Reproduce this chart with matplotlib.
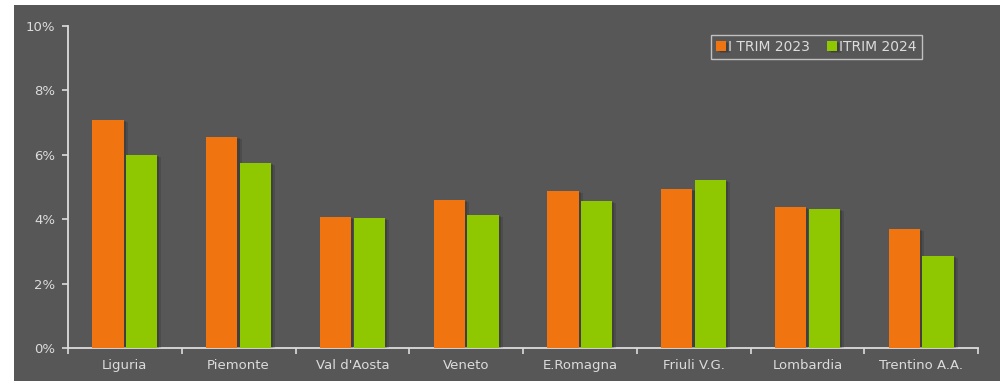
import matplotlib
matplotlib.use("Agg")
import matplotlib.pyplot as plt
import matplotlib.patheffects as pe
from matplotlib.patches import Rectangle
from matplotlib.ticker import FuncFormatter, MultipleLocator
import numpy as np

# Data
regions = ["Liguria", "Piemonte", "Val d'Aosta", "Veneto", "E.Romagna",
           "Friuli V.G.", "Lombardia", "Trentino A.A."]
trim_2023 = [7.08, 6.56, 4.08, 4.60, 4.87, 4.94, 4.39, 3.70]
trim_2024 = [5.99, 5.76, 4.05, 4.12, 4.56, 5.22, 4.32, 2.86]
series_labels = ["I TRIM 2023", "ITRIM 2024"]

bg = "#575757"
fg = "#dcdcdc"
orange = "#f07410"
green = "#8fc800"

plt.rcParams["font.family"] = ["DejaVu Sans"]

fig = plt.figure(figsize=(10, 3.81), dpi=100, facecolor="white")
# grey panel (white strip on top and left like the source)
fig.patches.append(Rectangle((0.014, 0), 0.986, 1 - 5 / 381, transform=fig.transFigure,
                             facecolor=bg, edgecolor="none", zorder=-10))

ax = fig.add_axes([0.068, 0.0866, 0.910, 0.8452])
ax.set_facecolor("none")

x = np.arange(len(regions))
w = 0.275
# soft drop shadow behind bars
shadow = [pe.SimplePatchShadow(offset=(3, -1.5), shadow_rgbFace="black", alpha=0.12),
          pe.SimplePatchShadow(offset=(1.5, -0.8), shadow_rgbFace="black", alpha=0.15),
          pe.Normal()]
ax.bar(x - w / 2 - 0.01, trim_2023, w, color=orange, label=series_labels[0],
       path_effects=shadow, zorder=3)
ax.bar(x + w / 2 + 0.01, trim_2024, w, color=green, label=series_labels[1],
       path_effects=shadow, zorder=3)

ax.set_xlim(-0.5, len(regions) - 0.5)
ax.set_ylim(0, 10)
ax.yaxis.set_major_locator(MultipleLocator(2))
ax.yaxis.set_major_formatter(FuncFormatter(lambda v, p: f"{v:.0f}%"))

ax.set_xticks(x)
ax.set_xticklabels(regions)
ax.set_xticks(np.arange(-0.5, len(regions)), minor=True)
ax.tick_params(axis="x", which="major", length=0, pad=8, labelsize=9.5, labelcolor=fg)
ax.tick_params(axis="x", which="minor", length=4, width=1.2, color=fg, direction="out")
ax.tick_params(axis="y", length=4, width=1.2, color=fg, labelsize=9.5, labelcolor=fg, pad=5)

for s in ["top", "right"]:
    ax.spines[s].set_visible(False)
for s in ["left", "bottom"]:
    ax.spines[s].set_color(fg)
    ax.spines[s].set_linewidth(1.3)

leg = ax.legend(loc="upper right", bbox_to_anchor=(0.938, 0.972), ncol=2,
                frameon=True, fancybox=False, fontsize=10, labelcolor=fg,
                handlelength=0.75, handleheight=0.75, handletextpad=0.15,
                columnspacing=1.2, borderpad=0.35, borderaxespad=0)
leg.get_frame().set_facecolor("none")
leg.get_frame().set_edgecolor(fg)
leg.get_frame().set_linewidth(1.0)

fig.savefig("out.png", dpi=100, facecolor=fig.get_facecolor())
